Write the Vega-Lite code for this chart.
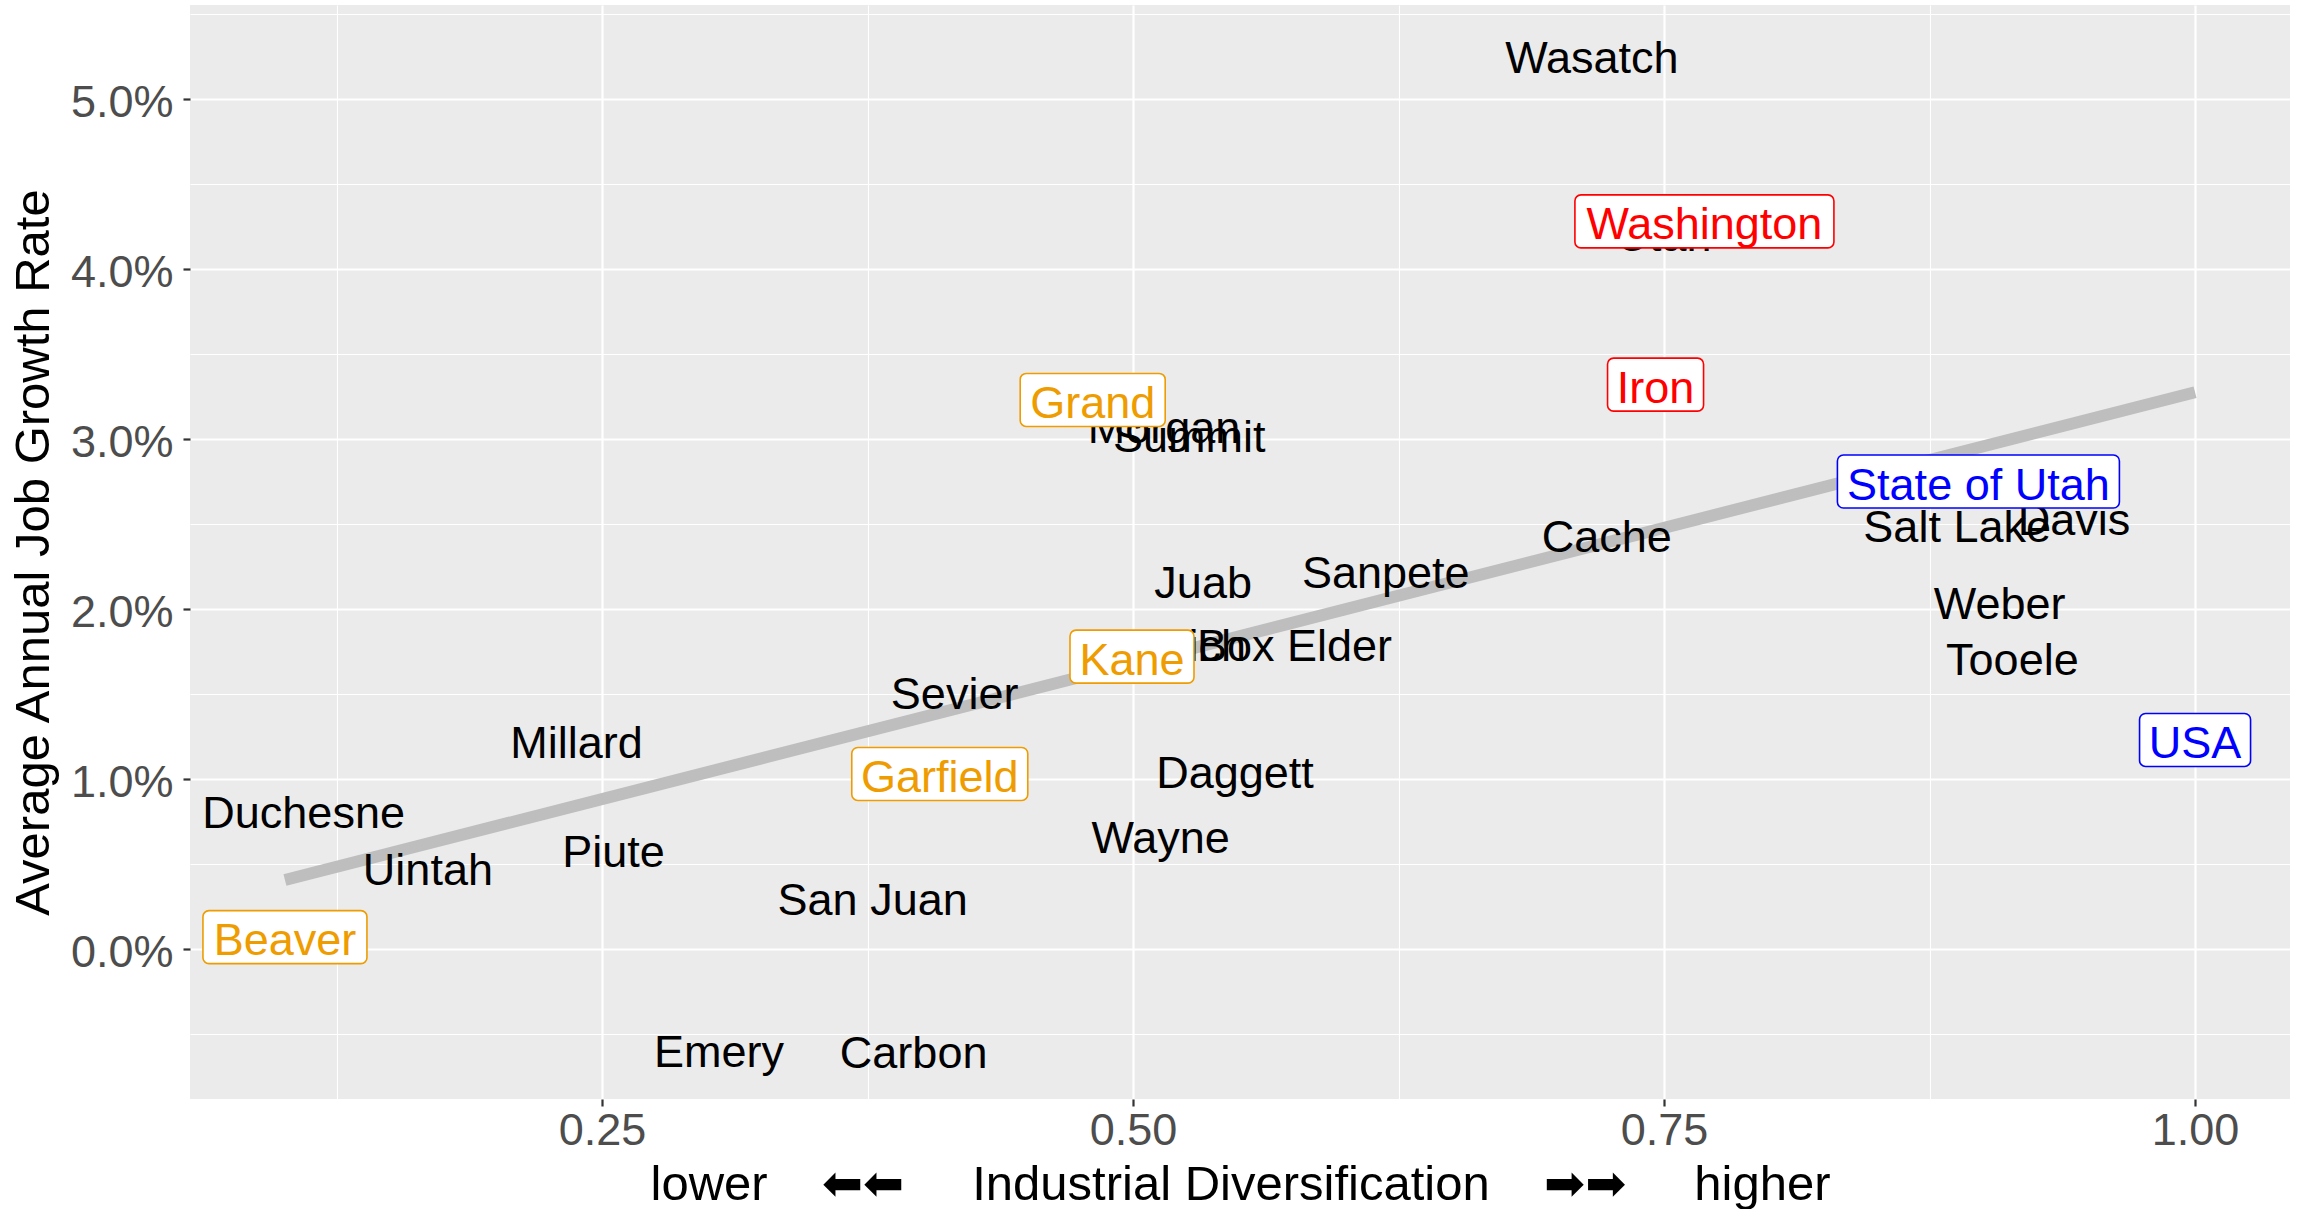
{
  "$schema": "https://vega.github.io/schema/vega-lite/v6.json",
  "width": 2100,
  "height": 1094,
  "autosize": {"type": "none"},
  "padding": {"left": 190, "top": 5, "right": 13, "bottom": 110},
  "background": "white",
  "config": {
    "view": {"fill": "#EBEBEB", "stroke": null},
    "font": "Liberation Sans",
    "axis": {
      "domain": false,
      "gridColor": "white",
      "tickColor": "#333333",
      "tickWidth": 2.2,
      "tickSize": 7,
      "labelColor": "#4D4D4D",
      "labelFont": "Liberation Sans",
      "labelFontSize": 45,
      "labelOverlap": false,
      "labelFlush": false,
      "labelBound": false,
      "titleFont": "Liberation Sans, DejaVu Sans",
      "titleFontSize": 49,
      "titleFontWeight": "normal",
      "titleColor": "black"
    }
  },
  "data": {
    "values": [
      {"name": "Wasatch", "x": 0.716, "y": 5.26, "group": "county"},
      {"name": "Utah", "x": 0.750, "y": 4.21, "group": "county"},
      {"name": "Morgan", "x": 0.5146, "y": 3.08, "group": "county"},
      {"name": "Summit", "x": 0.5264, "y": 3.03, "group": "county"},
      {"name": "Cache", "x": 0.723, "y": 2.44, "group": "county"},
      {"name": "Salt Lake", "x": 0.888, "y": 2.50, "group": "county"},
      {"name": "Davis", "x": 0.943, "y": 2.54, "group": "county"},
      {"name": "Juab", "x": 0.533, "y": 2.17, "group": "county"},
      {"name": "Sanpete", "x": 0.619, "y": 2.23, "group": "county"},
      {"name": "Weber", "x": 0.908, "y": 2.05, "group": "county"},
      {"name": "Rich", "x": 0.532, "y": 1.80, "group": "county"},
      {"name": "Box Elder", "x": 0.576, "y": 1.80, "group": "county"},
      {"name": "Tooele", "x": 0.914, "y": 1.72, "group": "county"},
      {"name": "Sevier", "x": 0.416, "y": 1.52, "group": "county"},
      {"name": "Millard", "x": 0.238, "y": 1.23, "group": "county"},
      {"name": "Daggett", "x": 0.548, "y": 1.056, "group": "county"},
      {"name": "Duchesne", "x": 0.1095, "y": 0.817, "group": "county"},
      {"name": "Wayne", "x": 0.513, "y": 0.673, "group": "county"},
      {"name": "Piute", "x": 0.2554, "y": 0.591, "group": "county"},
      {"name": "Uintah", "x": 0.168, "y": 0.483, "group": "county"},
      {"name": "San Juan", "x": 0.3774, "y": 0.308, "group": "county"},
      {"name": "Emery", "x": 0.305, "y": -0.587, "group": "county"},
      {"name": "Carbon", "x": 0.3967, "y": -0.592, "group": "county"},
      {"name": "Grand", "x": 0.481, "y": 3.23, "group": "group 1"},
      {"name": "Kane", "x": 0.4995, "y": 1.72, "group": "group 1"},
      {"name": "Garfield", "x": 0.409, "y": 1.03, "group": "group 1"},
      {"name": "Beaver", "x": 0.1007, "y": 0.07, "group": "group 1"},
      {"name": "Washington", "x": 0.769, "y": 4.28, "group": "group 2"},
      {"name": "Iron", "x": 0.746, "y": 3.32, "group": "group 2"},
      {"name": "State of Utah", "x": 0.898, "y": 2.75, "group": "benchmark"},
      {"name": "USA", "x": 1.0, "y": 1.23, "group": "benchmark"}
    ]
  },
  "encoding": {
    "x": {
      "field": "x",
      "type": "quantitative",
      "scale": {"domain": [0.056, 1.0447], "nice": false, "zero": false},
      "axis": {
        "values": [0.125, 0.25, 0.375, 0.5, 0.625, 0.75, 0.875, 1.0],
        "labelExpr": "(datum.value * 4) % 1 === 0 ? format(datum.value, '.2f') : ''",
        "gridWidth": {"condition": {"test": "(datum.value * 4) % 1 === 0", "value": 2.2}, "value": 1.1},
        "tickOpacity": {"condition": {"test": "(datum.value * 4) % 1 === 0", "value": 1}, "value": 0},
        "labelPadding": 2,
        "titlePadding": 7,
        "title": "lower\u00a0\u00a0\u00a0\u00a0⬅⬅\u00a0\u00a0\u00a0\u00a0\u00a0Industrial Diversification\u00a0\u00a0\u00a0\u00a0➡➡\u00a0\u00a0\u00a0\u00a0\u00a0higher"
      }
    },
    "y": {
      "field": "y",
      "type": "quantitative",
      "scale": {"domain": [-0.882, 5.553], "nice": false, "zero": false},
      "axis": {
        "values": [-0.5, 0, 0.5, 1, 1.5, 2, 2.5, 3, 3.5, 4, 4.5, 5, 5.5],
        "labelExpr": "datum.value % 1 === 0 ? format(datum.value, '.1f') + '%' : ''",
        "gridWidth": {"condition": {"test": "datum.value % 1 === 0", "value": 2.2}, "value": 1.1},
        "tickOpacity": {"condition": {"test": "datum.value % 1 === 0", "value": 1}, "value": 0},
        "labelPadding": 10,
        "labelOffset": 3,
        "titlePadding": 12,
        "title": "Average Annual Job Growth Rate"
      }
    }
  },
  "layer": [
    {
      "data": {"values": [{"x": 0.1007, "y": 0.406}, {"x": 1.0, "y": 3.275}]},
      "mark": {"type": "line", "color": "#BEBEBE", "strokeWidth": 12, "strokeCap": "butt"}
    },
    {
      "transform": [{"filter": "datum.group === 'county'"}],
      "mark": {"type": "text", "font": "Liberation Sans", "fontSize": 45, "color": "black", "align": "center", "baseline": "middle", "dy": 4},
      "encoding": {"text": {"field": "name", "type": "nominal"}}
    },
    {
      "transform": [{"filter": "datum.group !== 'county'"}],
      "mark": {
        "type": "rect",
        "fill": "white",
        "strokeWidth": 1.6,
        "cornerRadius": 6,
        "height": 53,
        "width": {"expr": "datum.name === 'Grand' ? 145 : datum.name === 'Kane' ? 124 : datum.name === 'Washington' ? 259 : datum.name === 'Iron' ? 96 : datum.name === 'State of Utah' ? 282 : datum.name === 'USA' ? 111 : datum.name === 'Garfield' ? 176 : 164"}
      },
      "encoding": {
        "stroke": {
          "field": "group",
          "type": "nominal",
          "scale": {"domain": ["group 1", "group 2", "benchmark"], "range": ["#EE9C00", "#FF0000", "#0000FF"]},
          "legend": null
        }
      }
    },
    {
      "transform": [{"filter": "datum.group !== 'county'"}],
      "mark": {"type": "text", "font": "Liberation Sans", "fontSize": 45, "align": "center", "baseline": "middle", "dy": 4},
      "encoding": {
        "text": {"field": "name", "type": "nominal"},
        "color": {
          "field": "group",
          "type": "nominal",
          "scale": {"domain": ["group 1", "group 2", "benchmark"], "range": ["#EE9C00", "#FF0000", "#0000FF"]},
          "legend": null
        }
      }
    }
  ]
}
